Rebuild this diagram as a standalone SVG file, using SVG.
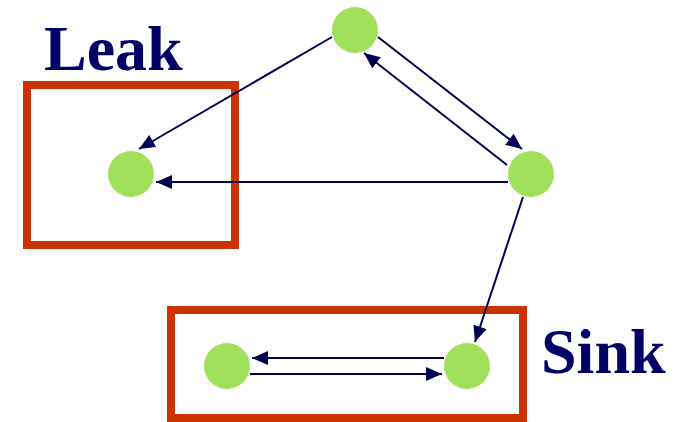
<svg xmlns="http://www.w3.org/2000/svg" width="682" height="422" viewBox="0 0 682 422">
<style>
.box{fill:none;stroke:#CC3300;stroke-width:8}
.node{fill:#A0E05A}
.edge{stroke:#000050;stroke-width:2;fill:none;marker-end:url(#ah)}
.lbl{font-family:"Liberation Serif","Times New Roman",serif;font-weight:bold;font-size:64px;fill:#000066}
</style>
<defs>
<marker id="ah" markerUnits="userSpaceOnUse" markerWidth="17" markerHeight="14" refX="16" refY="7" orient="auto">
<path d="M0,0 L16,7 L0,14 z" fill="#000050"/>
</marker>
</defs>
<rect width="682" height="422" fill="#fff"/>
<g id="leak-box"><rect class="box" x="27" y="85" width="208" height="160"/><text class="lbl" x="44" y="70">Leak</text></g>
<g id="sink-box"><rect class="box" x="171" y="310" width="352" height="108"/><text class="lbl" x="541" y="373">Sink</text></g>
<g id="connectors">
<line class="edge" x1="332" y1="37" x2="139" y2="149"/>
<line class="edge" x1="508" y1="182" x2="156" y2="182"/>
<line class="edge" x1="378" y1="37" x2="522" y2="149"/>
<line class="edge" x1="507" y1="165" x2="364" y2="53"/>
<line class="edge" x1="523" y1="197" x2="475" y2="342"/>
<line class="edge" x1="444" y1="358" x2="252" y2="358"/>
<line class="edge" x1="250" y1="374" x2="442" y2="374"/>
</g>
<g id="n-top"><circle class="node" cx="355" cy="30" r="23"/></g>
<g id="n-right"><circle class="node" cx="531" cy="174" r="23"/></g>
<g id="n-leak"><circle class="node" cx="131" cy="174" r="23"/></g>
<g id="n-sink-left"><circle class="node" cx="227" cy="366" r="23"/></g>
<g id="n-sink-right"><circle class="node" cx="467" cy="366" r="23"/></g>
</svg>
